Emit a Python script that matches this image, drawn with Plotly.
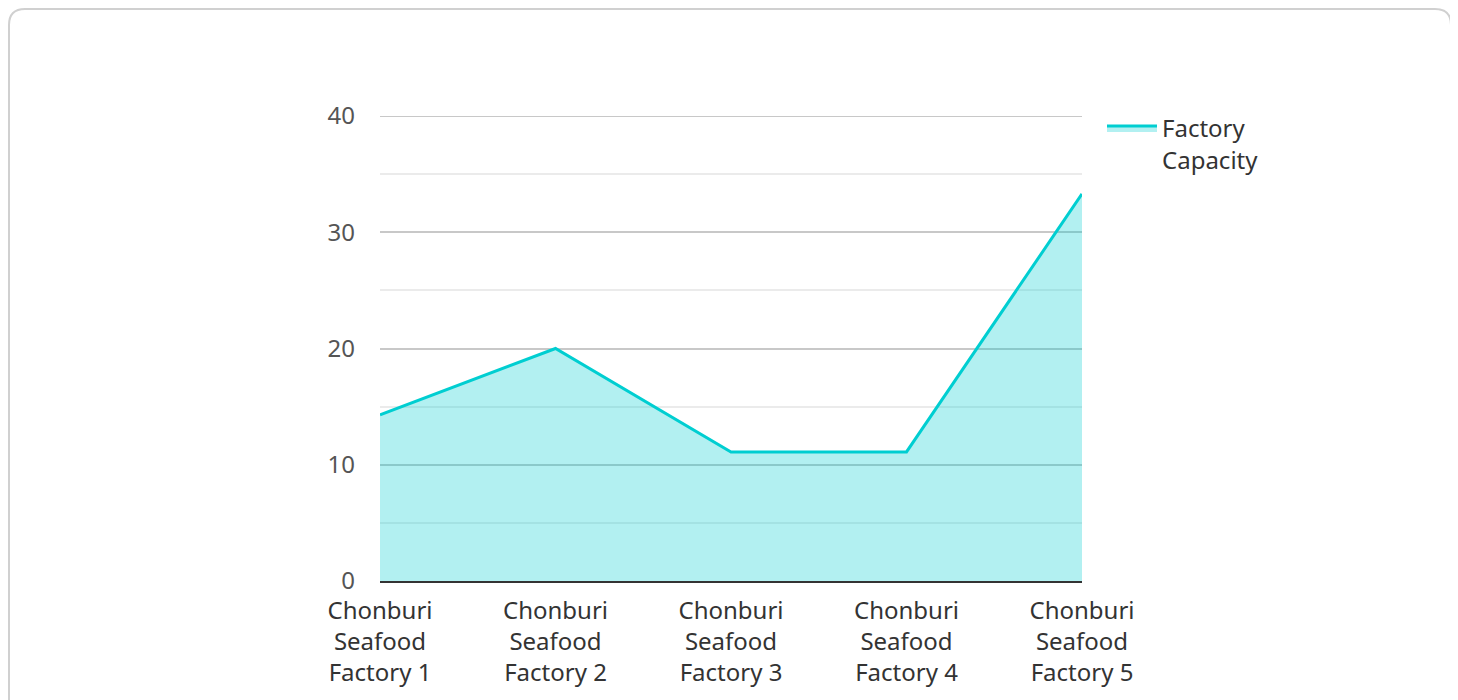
import plotly.graph_objects as go

categories = ["Chonburi Seafood Factory 1", "Chonburi Seafood Factory 2", "Chonburi Seafood Factory 3",
              "Chonburi Seafood Factory 4", "Chonburi Seafood Factory 5"]
tick_labels = ["Chonburi<br>Seafood<br>Factory 1", "Chonburi<br>Seafood<br>Factory 2",
               "Chonburi<br>Seafood<br>Factory 3", "Chonburi<br>Seafood<br>Factory 4",
               "Chonburi<br>Seafood<br>Factory 5"]
capacity = [14.3, 20.0, 11.1, 11.1, 33.3]
series_name = "Factory<br>Capacity"
y_ticks = [0, 10, 20, 30, 40]
y_minor = [5, 15, 25, 35]

W, H = 1458, 700
OFF = 8  # page body margin
L, R, T, B = 380 - OFF, 1082 - OFF, 116 - OFF, 581 - OFF


def px_x(p):
    return (p - L) / (R - L)


def px_y(p):
    return (B - p) / (B - T)


x_idx = list(range(len(categories)))

fig = go.Figure()
fig.add_trace(go.Scatter(
    x=x_idx, y=capacity, name=series_name, mode="lines",
    line=dict(color="#00CED1", width=3),
    fill="tozeroy", fillcolor="rgba(0,206,209,0.3)",
    hovertext=categories,
))

# top gridline (plotly hides the gridline at the very edge of the range)
fig.add_shape(type="line", xref="paper", yref="y", x0=0, x1=1, y0=y_ticks[-1], y1=y_ticks[-1],
              line=dict(color="#c8c8c8", width=2), layer="below")

# card border with rounded corners (figure pixel coords)
x0, x1, y0, y1, r = 1, 1443, 1, 720, 16
path = (f"M {px_x(x0)} {px_y(y1)} L {px_x(x0)} {px_y(y0 + r)} "
        f"Q {px_x(x0)} {px_y(y0)} {px_x(x0 + r)} {px_y(y0)} "
        f"L {px_x(x1 - r)} {px_y(y0)} "
        f"Q {px_x(x1)} {px_y(y0)} {px_x(x1)} {px_y(y0 + r)} "
        f"L {px_x(x1)} {px_y(y1)}")
fig.add_shape(type="path", path=path, xref="paper", yref="paper",
              line=dict(color="#d0d0d0", width=2), layer="below")

fig.update_layout(
    width=W, height=H,
    margin=dict(l=L, r=W - R, t=T, b=H - B),
    paper_bgcolor="white", plot_bgcolor="white",
    font=dict(family="Noto Sans", size=24, color="#333333"),
    showlegend=True,
    legend=dict(x=px_x(1102 - OFF), y=px_y(106 - OFF), xanchor="left", yanchor="top",
                font=dict(size=24, color="#333333"), itemwidth=50, valign="top",
                bgcolor="rgba(0,0,0,0)"),
    xaxis=dict(range=[0, 4], tickmode="array", tickvals=x_idx, ticktext=tick_labels,
               showgrid=False, showline=True, linecolor="#333333", linewidth=2,
               zeroline=False, tickfont=dict(size=24, color="#333333"), ticks="",
               ticklabelstandoff=7, layer="above traces"),
    yaxis=dict(range=[0, 40], tickvals=y_ticks, showgrid=True,
               gridcolor="#c8c8c8", gridwidth=2,
               zeroline=False, showline=False, tickfont=dict(size=24, color="#555555"),
               ticklabelstandoff=24,
               minor=dict(tickvals=y_minor, showgrid=True, gridcolor="#ebebeb", gridwidth=2)),
)

fig.write_html("out.html")
